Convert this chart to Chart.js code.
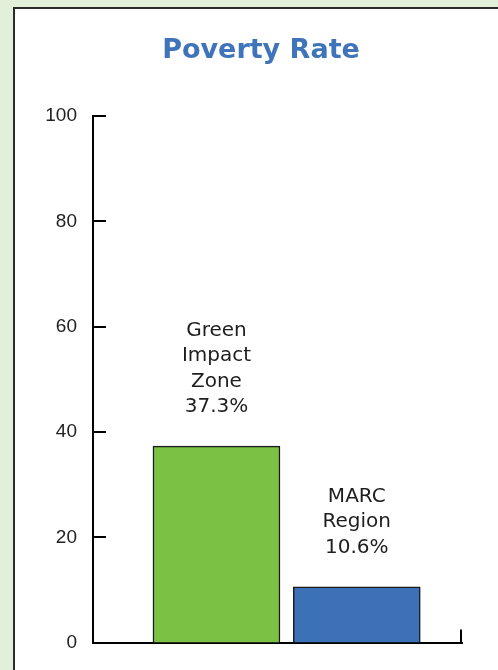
<!DOCTYPE html>
<html>
<head>
<meta charset="utf-8">
<title>Poverty Rate</title>
<script src="https://cdn.jsdelivr.net/npm/chart.js@4/dist/chart.umd.min.js"></script>
<style>
  html, body { margin: 0; padding: 0; width: 498px; height: 670px; overflow: hidden; background: #e2efd9; }
  #panel { position: absolute; left: 13px; top: 7px; width: 520px; height: 700px; background: #ffffff; border: 2px solid #2b2b2b; }
  #wrap { position: absolute; left: 0; top: 0; width: 522px; height: 670px; }
</style>
</head>
<body>
<div id="panel"></div>
<div id="wrap"><canvas id="chart" width="522" height="670"></canvas></div>
<script>
// Poverty rate by area, in percent
const categories = ['Green Impact Zone', 'MARC Region'];
const povertyRate = [37.3, 10.6];
const barColors = ['#7bc143', '#3d71b7'];
const yTicks = [0, 20, 40, 60, 80, 100];

// Labels above each bar: one word per line, then the value
const barLabels = {
  id: 'barLabels',
  afterDatasetsDraw(chart) {
    const ctx = chart.ctx;
    const meta = chart.getDatasetMeta(0);
    ctx.save();
    ctx.font = '20px "DejaVu Sans"';
    ctx.fillStyle = '#1e1e1e';
    ctx.textAlign = 'center';
    ctx.textBaseline = 'alphabetic';
    meta.data.forEach((bar, i) => {
      const lines = categories[i].split(' ').concat([povertyRate[i].toFixed(1) + '%']);
      const base = bar.y - 34;
      lines.forEach((line, k) => {
        ctx.fillText(line, bar.x, base - (lines.length - 1 - k) * 25.5);
      });
    });
    ctx.restore();
  }
};

// Inward tick marks on the value axis and a closing tick at the end of the base axis
const innerTicks = {
  id: 'innerTicks',
  afterDraw(chart) {
    const ctx = chart.ctx;
    const area = chart.chartArea;
    const y = chart.scales.y;
    ctx.save();
    ctx.strokeStyle = '#000';
    ctx.lineWidth = 2;
    ctx.beginPath();
    y.ticks.forEach(t => {
      const py = Math.round(y.getPixelForValue(t.value));
      ctx.moveTo(area.left, py);
      ctx.lineTo(area.left + 13, py);
    });
    ctx.moveTo(area.right - 1, area.bottom);
    ctx.lineTo(area.right - 1, area.bottom - 13);
    ctx.stroke();
    ctx.restore();
  }
};

new Chart(document.getElementById('chart'), {
  type: 'bar',
  data: {
    datasets: [{
      data: povertyRate.map((v, i) => ({ x: i + 1, y: v })),
      backgroundColor: barColors,
      borderColor: '#1a1a1a',
      borderWidth: 1.5,
      barThickness: 127
    }]
  },
  options: {
    responsive: false,
    animation: false,
    layout: { padding: { left: 0, right: 0, top: 0, bottom: 27 } },
    plugins: {
      legend: { display: false },
      tooltip: { enabled: false },
      title: {
        display: true,
        text: 'Poverty Rate',
        color: '#3f74ba',
        font: { family: '"DejaVu Sans"', size: 27, weight: 'bold', lineHeight: 1.2 },
        padding: { top: 35, bottom: 48.6 }
      }
    },
    scales: {
      x: {
        type: 'linear',
        min: 0.12,
        max: 2.75,
        offset: false,
        ticks: { display: false },
        grid: { display: false, drawTicks: false },
        border: { display: true, color: '#000', width: 2 },
        afterFit(s) { s.height = 0; }
      },
      y: {
        min: 0,
        max: 100,
        afterBuildTicks(s) { s.ticks = yTicks.map(v => ({ value: v })); },
        ticks: {
          color: '#222',
          padding: 16,
          font: { family: '"Liberation Sans"', size: 19 }
        },
        grid: { display: false, drawTicks: false },
        border: { display: true, color: '#000', width: 2 },
        afterFit(s) { s.width = 93; }
      },
      // empty margin on the right of the plot
      yRight: {
        position: 'right',
        display: true,
        ticks: { display: false },
        grid: { display: false, drawTicks: false },
        border: { display: false },
        afterFit(s) { s.width = 60; }
      }
    }
  },
  plugins: [barLabels, innerTicks]
});
</script>
</body>
</html>
